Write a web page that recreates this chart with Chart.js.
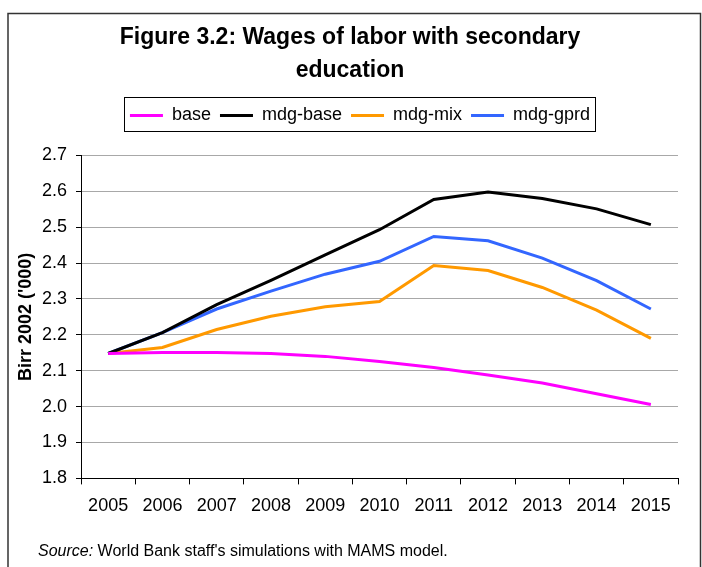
<!DOCTYPE html>
<html>
<head>
<meta charset="utf-8">
<title>Figure 3.2</title>
<script src="https://cdn.jsdelivr.net/npm/chart.js"></script>
<style>
  html, body { margin: 0; padding: 0; background: #fff; }
  #wrap { width: 702px; height: 567px; position: relative; }
</style>
</head>
<body>
<div id="wrap"><canvas id="wages-chart" width="702" height="567"></canvas></div>
<script>
// data
const years = ['2005', '2006', '2007', '2008', '2009', '2010', '2011', '2012', '2013', '2014', '2015'];
const baseValues    = [2.148, 2.151, 2.151, 2.148, 2.140, 2.126, 2.109, 2.088, 2.066, 2.036, 2.006];
const mdgBaseValues = [2.148, 2.206, 2.284, 2.352, 2.423, 2.493, 2.577, 2.598, 2.580, 2.551, 2.507];
const mdgMixValues  = [2.148, 2.165, 2.215, 2.252, 2.278, 2.293, 2.393, 2.379, 2.332, 2.269, 2.190];
const mdgGprdValues = [2.148, 2.206, 2.272, 2.322, 2.369, 2.405, 2.474, 2.462, 2.414, 2.351, 2.272];
const yTicks = [1.8, 1.9, 2.0, 2.1, 2.2, 2.3, 2.4, 2.5, 2.6, 2.7];

const FONT = 'Arial, "Liberation Sans", Helvetica, sans-serif';

function series(label, data, color) {
    return {
        label: label,
        data: data,
        borderColor: color,
        backgroundColor: color,
        borderWidth: 3,
        pointRadius: 0,
        pointHoverRadius: 0,
        tension: 0,
        fill: false
    };
}

// outer frame, legend frame and the source note
const framePlugin = {
    id: 'frame',
    beforeLayout(chart) {
        // leave room between legend and plot, like the original
        const legend = chart.legend;
        if (legend && !legend._patched) {
            const fit = legend.fit;
            legend.fit = function () {
                fit.call(this);
                this.height += 21;
            };
            legend._patched = true;
        }
    },
    afterLayout(chart) {
        // title and legend sit a little right of centre in the original
        chart.legend.left += 17;
        chart.legend.right += 17;
        if (chart.titleBlock) {
            chart.titleBlock.left += 7;
            chart.titleBlock.right += 7;
        }
    },
    afterDraw(chart) {
        const ctx = chart.ctx;
        ctx.save();
        ctx.strokeStyle = '#333';
        ctx.lineWidth = 1.5;
        ctx.strokeRect(8, 13.5, 692.5, 600);

        const boxes = chart.legend.legendHitBoxes;
        if (boxes && boxes.length) {
            let l = Infinity, r = -Infinity, t = Infinity, b = -Infinity;
            boxes.forEach(h => {
                l = Math.min(l, h.left); r = Math.max(r, h.left + h.width);
                t = Math.min(t, h.top); b = Math.max(b, h.top + h.height);
            });
            ctx.strokeStyle = '#000';
            ctx.lineWidth = 1;
            ctx.strokeRect(Math.round(l) - 5.5, Math.round(t) - 8.5, Math.round(r - l) + 11, Math.round(b - t) + 16);
        }

        ctx.fillStyle = '#000';
        ctx.textBaseline = 'alphabetic';
        ctx.textAlign = 'left';
        ctx.font = 'italic 16px ' + FONT;
        const lead = 'Source:';
        ctx.fillText(lead, 38, 556);
        const w = ctx.measureText(lead).width;
        ctx.font = '16px ' + FONT;
        ctx.fillText(" World Bank staff's simulations with MAMS model.", 38 + w, 556);
        ctx.restore();
    }
};

const ctx = document.getElementById('wages-chart').getContext('2d');
new Chart(ctx, {
    type: 'line',
    data: {
        labels: years,
        datasets: [
            series('base', baseValues, '#ff00ff'),
            series('mdg-base', mdgBaseValues, '#000000'),
            series('mdg-mix', mdgMixValues, '#ff9900'),
            series('mdg-gprd', mdgGprdValues, '#3366ff')
        ]
    },
    options: {
        responsive: false,
        animation: false,
        devicePixelRatio: 1,
        layout: { padding: { left: 8, right: 24, top: 14, bottom: 39 } },
        plugins: {
            tooltip: { enabled: false },
            title: {
                display: true,
                text: ['Figure 3.2: Wages of labor with secondary', 'education'],
                color: '#000',
                font: { family: FONT, size: 23, weight: 'bold', lineHeight: 1.4 },
                padding: { top: 8, bottom: 11 }
            },
            legend: {
                display: true,
                position: 'top',
                labels: {
                    usePointStyle: true,
                    pointStyle: 'line',
                    pointStyleWidth: 33,
                    color: '#000',
                    padding: 9,
                    font: { family: FONT, size: 18 }
                }
            }
        },
        scales: {
            x: {
                type: 'category',
                offset: true,
                grid: {
                    offset: true,
                    drawOnChartArea: false,
                    drawTicks: true,
                    tickLength: 6,
                    color: '#000'
                },
                border: { display: true, color: '#000', width: 1 },
                ticks: {
                    color: '#000',
                    padding: 11,
                    maxRotation: 0,
                    autoSkip: false,
                    font: { family: FONT, size: 18 }
                }
            },
            y: {
                min: yTicks[0],
                max: yTicks[yTicks.length - 1],
                afterFit(scale) { scale.width = 73; },
                afterBuildTicks(scale) { scale.ticks = yTicks.map(v => ({ value: v })); },
                grid: {
                    color: '#a8a8a8',
                    drawTicks: true,
                    tickLength: 5,
                    tickColor: '#000'
                },
                border: { display: true, color: '#000', width: 1 },
                ticks: {
                    color: '#000',
                    padding: 9,
                    font: { family: FONT, size: 18 },
                    callback: v => Number(v).toFixed(1)
                },
                title: {
                    display: true,
                    text: "Birr 2002 ('000)",
                    color: '#000',
                    font: { family: FONT, size: 18, weight: 'bold' },
                    padding: { top: 7, bottom: 0 }
                }
            }
        }
    },
    plugins: [framePlugin]
});
</script>
</body>
</html>
